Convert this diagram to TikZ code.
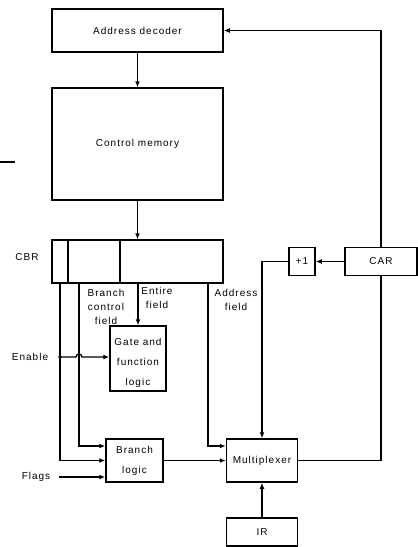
\documentclass[tikz,border=0pt]{standalone}
\usepackage{fontspec}
\newfontfamily\diagfont[LetterSpace=10]{Liberation Sans}
\usetikzlibrary{arrows.meta}

\begin{document}
\begin{tikzpicture}[x=1pt, y=-1pt, line width=1.3pt,
    blk/.style={draw, line width=1.5pt, inner sep=0pt, align=center},
    lbl/.style={align=center, inner sep=0pt},
    >={Latex[length=6pt,width=5pt]},
    font=\diagfont\fontsize{10}{12}\selectfont]
    \useasboundingbox (0,0) rectangle (418,547);

    \node[blk, minimum width=171pt, minimum height=43pt] (AD) at (137.5,30.5) {Address decoder};
    \node[blk, minimum width=171pt, minimum height=112pt] (CM) at (137.5,144) {Control memory};
    \node[blk, minimum width=171pt, minimum height=43pt] (CBR) at (137.5,261.5) {};
    \draw[line width=1.5pt] (68,0 |- CBR.north) -- (68,0 |- CBR.south) (120,0 |- CBR.north) -- (120,0 |- CBR.south);
    \node[blk, minimum width=56pt, minimum height=65pt] (GFL) at (138,358.5) {\rule{0pt}{17pt}Gate and\\[8pt] function\\[8pt] logic};
    \node[blk, minimum width=57pt, minimum height=43pt] (BL) at (134.5,460.5) {Branch\\[8pt] logic};
    \node[blk, minimum width=71pt, minimum height=43pt] (MUX) at (262,460.5) {Multiplexer};
    \node[blk, minimum width=71pt, minimum height=28pt] (IR) at (262,532) {IR};
    \node[blk, minimum width=26pt, minimum height=28pt] (INC) at (302,261.5) {+1};
    \node[blk, minimum width=72pt, minimum height=28pt] (CAR) at (381,261.5) {CAR};

    \node[lbl] (cbrlbl) at (27,257) {CBR};
    \node[lbl] (enlbl) at (30,357) {Enable};
    \node[lbl] (flaglbl) at (36,477) {Flags};
    \node[lbl] (bcflbl) at (106,307) {Branch\\[2pt] control\\[2pt] field};
    \node[lbl] (eflbl) at (157,298) {Entire\\[2pt] field};
    \node[lbl] (aflbl) at (236,300) {Address\\[2pt] field};

    \coordinate (en) at (60,357); \coordinate (bc) at (79,446); \coordinate (af) at (208,446); \coordinate (flin) at (59,477);

    \draw[->] (AD) -- (CM);
    \draw[->] (CM) -- (CBR);
    \draw[->] (CBR.south -| GFL.north) -- (GFL.north);
    \draw[->] (CBR.south -| en) -- (en |- BL.west) -- (BL.west);
    \draw[->] (CBR.south -| bc) -- (bc) -- (BL.west |- bc);
    \draw[->] (en) -- ([xshift=-3pt]bc |- en) arc[start angle=180, end angle=360, radius=3] -- (GFL.west |- en);
    \fill (en) circle (1.8pt);
    \draw[->] (flin) -- (BL.west |- flin);
    \draw[->] (BL.east) -- (MUX.west);
    \draw[->] (CBR.south -| af) -- (af) -- (MUX.west |- af);
    \draw[->] (IR) -- (MUX);
    \draw[->] (CAR) -- (INC);
    \draw[->] (INC.west) -| (MUX.north);
    \draw (MUX.east) -| (CAR.south);
    \draw[->] (CAR.north) |- (AD.east);
    \draw (0,162) -- (15,162);
\end{tikzpicture}
\end{document}
